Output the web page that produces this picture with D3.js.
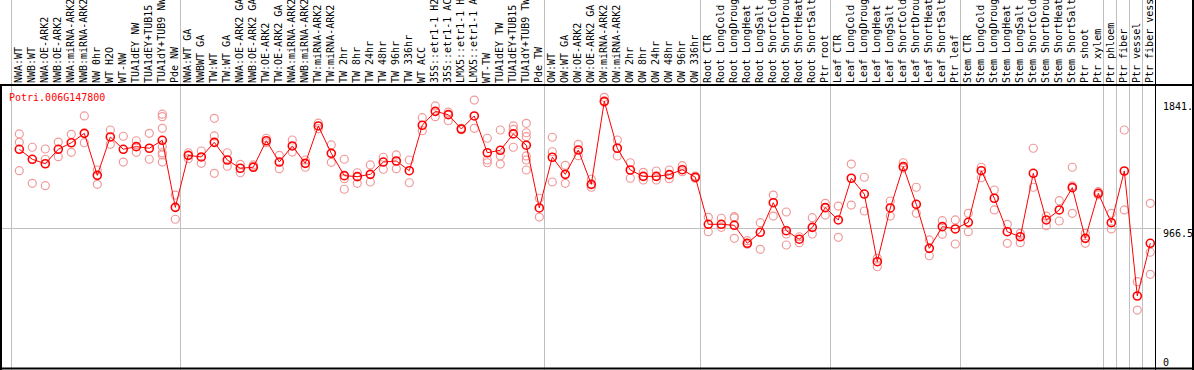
<!DOCTYPE html>
<html>
<head>
<meta charset="utf-8">
<script src="https://cdn.jsdelivr.net/npm/d3@7"></script>
<style>
  body { margin: 0; background: #fff; }
  text { font-family: "DejaVu Sans Mono", "Liberation Mono", monospace; font-size: 10px; }
</style>
</head>
<body>
<div class="chart"></div>
<script>
var geneName = "Potri.006G147800";

var labels = [
  "NWA:WT", "NWB:WT", "NWA:OE-ARK2", "NWB:OE-ARK2", "NWA:miRNA-ARK2", "NWB:miRNA-ARK2", "NW 0hr",
  "WT H2O", "WT-NW", "TUA1dEY NW", "TUA1dEY+TUB15", "TUA1dY+TUB9 NW", "Pde NW",
  "NWA:WT GA", "NWBWT GA", "TW:WT", "TW:WT GA", "NWA:OE-ARK2 GA", "NWB:OE-ARK2 GA", "TW:OE-ARK2",
  "TW:OE-ARK2 GA", "NWA:miRNA-ARK2", "NWB:miRNA-ARK2", "TW:miRNA-ARK2", "TW:miRNA-ARK2", "TW 2hr",
  "TW 8hr", "TW 24hr", "TW 48hr", "TW 96hr", "TW 336hr", "WT ACC", "35S::etr1-1 H2O", "35S::etr1-1 ACC",
  "LMX5::etr1-1 H2O", "LMX5::etr1-1 ACC", "WT-TW", "TUA1dEY TW", "TUA1dEY+TUB15", "TUA1dY+TUB9 TW", "Pde TW",
  "OW:WT", "OW:WT GA", "OW:OE-ARK2", "OW:OE-ARK2 GA", "OW:miRNA-ARK2", "OW:miRNA-ARK2", "OW 2hr", "OW 8hr",
  "OW 24hr", "OW 48hr", "OW 96hr", "OW 336hr",
  "Root CTR", "Root LongCold", "Root LongDrought", "Root LongHeat", "Root LongSalt", "Root ShortCold",
  "Root ShortDrought", "Root ShortHeat", "Root ShortSalt", "Ptr root",
  "Leaf CTR", "Leaf LongCold", "Leaf LongDrought", "Leaf LongHeat", "Leaf LongSalt", "Leaf ShortCold",
  "Leaf ShortDrought", "Leaf ShortHeat", "Leaf ShortSalt", "Ptr leaf",
  "Stem CTR", "Stem LongCold", "Stem LongDrought", "Stem LongHeat", "Stem LongSalt", "Stem ShortCold",
  "Stem ShortDrought", "Stem ShortHeat", "Stem ShortSalt", "Ptr shoot", "Ptr xylem",
  "Ptr phloem", "Ptr fiber", "Ptr vessel", "Ptr fiber vessel"
];

// index of the first sample in each group
var groupStarts = [0, 13, 41, 53, 63, 73, 84, 85, 86, 87];

var means = [
  1510, 1441, 1410, 1510, 1555, 1620, 1330, 1595, 1510, 1528, 1517, 1572, 1109,
  1468, 1457, 1558, 1436, 1379, 1386, 1569, 1422, 1533, 1413, 1671, 1482, 1328, 1321, 1337,
  1422, 1429, 1362, 1676, 1772, 1749, 1650, 1740, 1486, 1503, 1616, 1538, 1105,
  1455, 1337, 1505, 1268, 1841, 1517, 1367, 1323, 1323, 1335, 1369, 1317,
  992, 992, 985, 861, 937, 1141, 948, 889, 971, 1107,
  1022, 1310, 1201, 734, 1105, 1390, 1130, 826, 976, 960,
  1006, 1362, 1172, 941, 906, 1344, 1022, 1091, 1245, 895, 1206,
  1003, 1360, 497, 861
];

var reps = [
  [1616, 1558, 1362], [1524, 1275], [1512, 1441, 1259], [1560, 1459], [1613, 1489],
  [1740, 1555], [1367, 1268], [1643, 1544], [1600, 1422], [1569, 1489], [1620, 1441],
  [1752, 1735, 1655, 1528, 1486, 1471, 1422], [1194, 1027],
  [1486, 1445], [1498, 1413], [1724, 1602, 1344], [1486, 1393], [1406, 1348], [1402, 1392],
  [1586, 1555], [1468, 1376], [1574, 1491], [1436, 1386], [1690, 1652], [1540, 1420],
  [1441, 1307, 1234], [1348, 1275], [1402, 1284], [1455, 1372], [1471, 1376], [1436, 1279],
  [1728, 1638], [1809, 1735], [1767, 1707], [1655, 1645], [1850, 1655], [1586, 1436, 1417],
  [1643, 1464, 1408], [1671, 1648, 1524], [1689, 1624, 1597, 1464, 1436, 1367], [1172, 1042],
  [1593, 1493, 1284], [1399, 1275], [1544, 1466], [1303, 1248], [1869, 1835], [1574, 1464],
  [1417, 1310], [1351, 1298], [1360, 1298], [1367, 1307], [1397, 1355], [1325, 1310],
  [1040, 941], [1034, 971], [1045, 1036, 895], [879, 855], [1003, 819], [1194, 1049],
  [1077, 925, 849], [906, 865], [1038, 925], [1137, 1056],
  [1118, 902], [1408, 1125], [1317, 1084], [757, 699], [1153, 1049], [1417, 1380],
  [1248, 1068], [884, 775], [1017, 923], [1022, 856],
  [1068, 941], [1386, 1314], [1229, 1091], [992, 861], [930, 865], [1517, 1248],
  [1049, 982], [1155, 1015], [1386, 1257, 1068], [930, 861], [1217, 1195],
  [1068, 960], [1643, 1091], [596, 400], [1137, 799, 647]
];

var yTicks = [1841, 966.5, 0];
var yTickLabels = ["1841.", "966.5", "0"];

function drawChart() {
    var w = 1194;
    var h = 370;
    var top = 88, bottom = 368, frameTop = 85, plotRight = 1155.5;

    var svg = d3.select(".chart")
        .append("svg")
        .attr("width", w)
        .attr("height", h)
        .attr("style", "display:block;");

    var x = d3.scalePoint()
        .domain(d3.range(labels.length))
        .range([19.3, 19.3 + 13 * (labels.length - 1)]);

    var yMax = d3.max(means) * 1.05;
    var y = d3.scaleLinear()
        .domain([0, yMax])
        .range([bottom, top]);

    // group separators
    svg.append("g")
        .selectAll("line")
        .data(groupStarts)
        .enter().append("line")
        .attr("x1", function (d) { return Math.round(x(d) - 8) + 0.5; })
        .attr("x2", function (d) { return Math.round(x(d) - 8) + 0.5; })
        .attr("y1", 0)
        .attr("y2", h)
        .attr("stroke", "#c0c0c0")
        .attr("stroke-width", 1);

    // midline
    svg.append("line")
        .attr("x1", 0)
        .attr("x2", 1161)
        .attr("y1", Math.round(y(yMax / 2)) + 0.5)
        .attr("y2", Math.round(y(yMax / 2)) + 0.5)
        .attr("stroke", "#c0c0c0");

    // frame
    var frame = svg.append("g").attr("stroke", "#000");
    frame.append("line").attr("x1", 0).attr("x2", w).attr("y1", frameTop).attr("y2", frameTop).attr("stroke-width", 2);
    frame.append("line").attr("x1", 0).attr("x2", w).attr("y1", 368.5).attr("y2", 368.5).attr("stroke-width", 2);
    frame.append("line").attr("x1", 1).attr("x2", 1).attr("y1", frameTop).attr("y2", h).attr("stroke-width", 2);
    frame.append("line").attr("x1", plotRight).attr("x2", plotRight).attr("y1", 0).attr("y2", h).attr("stroke-width", 1);
    frame.append("line").attr("x1", 1193).attr("x2", 1193).attr("y1", 0).attr("y2", h).attr("stroke-width", 2);

    // sample labels
    svg.append("g")
        .selectAll("text")
        .data(labels)
        .enter().append("text")
        .attr("transform", function (d, i) { return "translate(" + (x(i) + 2.6) + "," + 83 + ") rotate(-90)"; })
        .attr("fill", "#000")
        .text(function (d) { return d; });

    // replicates
    var repPts = [];
    reps.forEach(function (r, i) {
        r.forEach(function (v) { repPts.push({ i: i, v: v }); });
    });
    svg.append("g")
        .selectAll("circle")
        .data(repPts)
        .enter().append("circle")
        .attr("cx", function (d) { return x(d.i); })
        .attr("cy", function (d) { return y(d.v); })
        .attr("r", 4)
        .attr("fill", "none")
        .attr("stroke", "#f09a9a")
        .attr("stroke-width", 1.2);

    // mean line
    var line = d3.line()
        .x(function (d, i) { return x(i); })
        .y(function (d) { return y(d); });
    svg.append("path")
        .datum(means)
        .attr("d", line)
        .attr("fill", "none")
        .attr("stroke", "#ff0000")
        .attr("stroke-width", 1);

    svg.append("g")
        .selectAll("circle")
        .data(means)
        .enter().append("circle")
        .attr("cx", function (d, i) { return x(i); })
        .attr("cy", function (d) { return y(d); })
        .attr("r", 4)
        .attr("fill", "none")
        .attr("stroke", "#ff0000")
        .attr("stroke-width", 1.6);

    // y labels on the right
    svg.append("g")
        .selectAll("text")
        .data(yTicks)
        .enter().append("text")
        .attr("x", 1163)
        .attr("y", function (d) { return Math.min(y(d) + 9, 366); })
        .attr("fill", "#000")
        .text(function (d, i) { return yTickLabels[i]; });

    // gene name
    svg.append("text")
        .attr("x", 9)
        .attr("y", 100.5)
        .attr("fill", "#ff0000")
        .text(geneName);
}

drawChart();
</script>
</body>
</html>
